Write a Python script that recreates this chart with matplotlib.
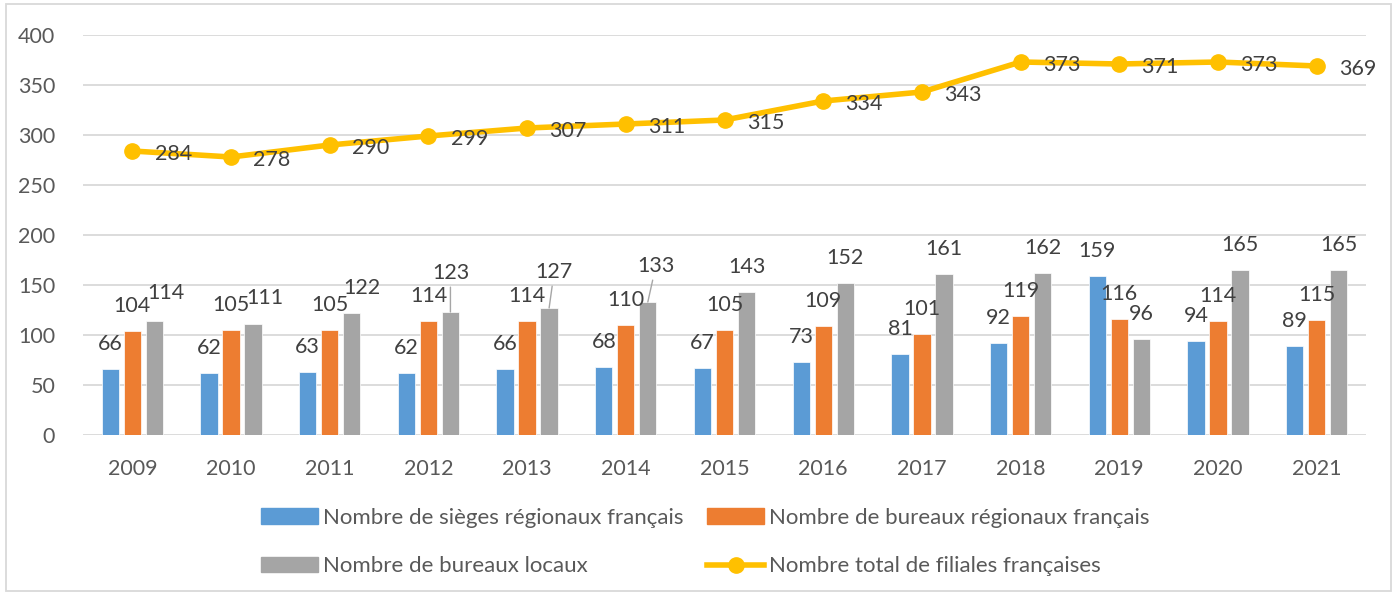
import matplotlib
matplotlib.use("Agg")
import matplotlib.pyplot as plt
from matplotlib.patches import Rectangle, Patch
from matplotlib.lines import Line2D
import numpy as np

plt.rcParams['font.family'] = ['Lato', 'DejaVu Sans']

years = ["2009", "2010", "2011", "2012", "2013", "2014", "2015",
         "2016", "2017", "2018", "2019", "2020", "2021"]
sieges = [66, 62, 63, 62, 66, 68, 67, 73, 81, 92, 159, 94, 89]
bureaux_regionaux = [104, 105, 105, 114, 114, 110, 105, 109, 101, 119, 116, 114, 115]
bureaux_locaux = [114, 111, 122, 123, 127, 133, 143, 152, 161, 162, 96, 165, 165]
total_filiales = [284, 278, 290, 299, 307, 311, 315, 334, 343, 373, 371, 373, 369]

series_names = ["Nombre de sièges régionaux français",
                "Nombre de bureaux régionaux français",
                "Nombre de bureaux locaux",
                "Nombre total de filiales françaises"]
colors = ["#5B9BD5", "#ED7D31", "#A5A5A5", "#FFC000"]

# label layout: pixel offsets of the gray-bar labels from bar top-centre (dx, dy up)
off_gray = [(12, 28), (12, 26), (10, 25), (0, 39), (5, 36), (8, 36), (0, 25),
            (0, 25), (0, 25), (0, 25), (0, 25), (0, 25), (0, 25)]
leader = [False, False, False, True, True, True, False, False, False, False, False, False, False]

W, H = 1397, 595
fig = plt.figure(figsize=(W / 100, H / 100), dpi=100)
ax = fig.add_axes([83 / W, 160 / H, (1366 - 83) / W, 400 / H])

x = np.arange(len(years))
bw = 0.175
step = 0.223
ax.bar(x - step, sieges, bw, color=colors[0], edgecolor='white', lw=0.5, zorder=2)
ax.bar(x, bureaux_regionaux, bw, color=colors[1], edgecolor='white', lw=0.5, zorder=2)
ax.bar(x + step, bureaux_locaux, bw, color=colors[2], edgecolor='white', lw=0.5, zorder=2)
ax.plot(x, total_filiales, color=colors[3], lw=4, marker='o', ms=11, zorder=3,
        solid_capstyle='round')

ax.set_xlim(-0.5, len(years) - 0.5)
ax.set_ylim(0, 400)
ax.set_yticks(range(0, 401, 50))
ax.set_xticks(x)
ax.set_xticklabels(years)
ax.grid(axis='y', color='#D9D9D9', lw=1.3, zorder=0)
ax.set_axisbelow(True)
for s in ax.spines.values():
    s.set_visible(False)
ax.tick_params(length=0, labelsize=15.5, labelcolor='#595959')
ax.tick_params(axis='y', pad=20)
ax.tick_params(axis='x', pad=17)

lab_kw = dict(fontsize=15.5, color='#404040', ha='center', va='center',
              textcoords='offset pixels', zorder=4)
for i in range(len(years)):
    ax.annotate(str(sieges[i]), (x[i] - step, sieges[i]), xytext=(0, 25), **lab_kw)
    ax.annotate(str(bureaux_regionaux[i]), (x[i], bureaux_regionaux[i]), xytext=(0, 25), **lab_kw)
    if leader[i]:
        ax.annotate(str(bureaux_locaux[i]), (x[i] + step, bureaux_locaux[i]),
                    xytext=off_gray[i],
                    arrowprops=dict(arrowstyle='-', color='#A6A6A6', lw=1,
                                    shrinkA=1, shrinkB=0), **lab_kw)
    else:
        ax.annotate(str(bureaux_locaux[i]), (x[i] + step, bureaux_locaux[i]), xytext=off_gray[i], **lab_kw)
    ax.annotate(str(total_filiales[i]), (x[i], total_filiales[i]), xytext=(41, -3), **lab_kw)

handles = [Patch(color=colors[0]), Patch(color=colors[1]), Patch(color=colors[2]),
           Line2D([], [], color=colors[3], lw=4, marker='o', ms=11)]
order = [0, 2, 1, 3]
fig.legend([handles[k] for k in order], [series_names[k] for k in order],
           ncol=2, loc='center', bbox_to_anchor=(705 / W, 1 - 542 / H),
           frameon=False, fontsize=16, labelcolor='#595959',
           handlelength=2.6, handleheight=0.7, handletextpad=0.2,
           columnspacing=1.05, labelspacing=1.3)

fig.patches.append(Rectangle((6 / W, 4 / H), (1391 - 6) / W, (591 - 4) / H,
                             transform=fig.transFigure, fill=False,
                             edgecolor='#D9D9D9', lw=1.3))

fig.savefig("out.png", dpi=100)
